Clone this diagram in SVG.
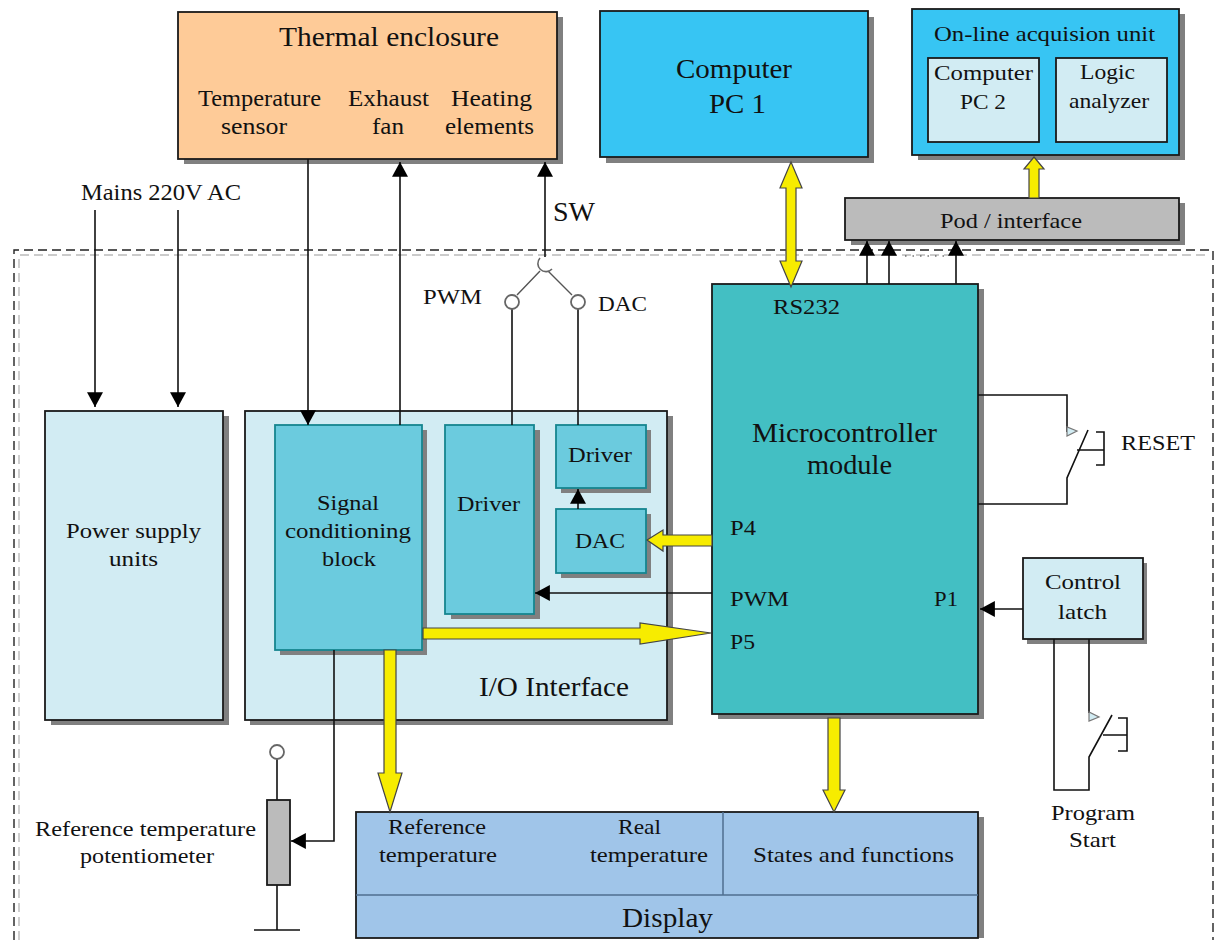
<svg xmlns="http://www.w3.org/2000/svg" width="1215" height="940" viewBox="0 0 1215 940">
<style>
text{font-family:"Liberation Serif","Times New Roman",serif;fill:#111;font-size:22px}
.s25{font-size:28px}.s24{font-size:27px}.s21{font-size:23px}
.sh{fill:#808080}
.box{stroke:#1a1a1a;stroke-width:1.8}
.inner{stroke:#16858f;stroke-width:1.8;fill:#6bcbde}
.lt{fill:#d2ecf3}.or{fill:#fecb98}.bl{fill:#37c5f3}.gr{fill:#bbb}.mc{fill:#43bfc3}.dp{fill:#a0c5e9}
.w{fill:none;stroke:#111;stroke-width:1.6}
.arr{fill:none;stroke:#111;stroke-width:1.6;marker-end:url(#ah)}
.bus{fill:#f7ec00;stroke:#444;stroke-width:1.2;stroke-linejoin:miter}
.term{fill:#fff;stroke:#666;stroke-width:1.8}
.div{fill:none;stroke:#4f6f90;stroke-width:1.5}
</style>
<defs>
<marker id="ah" markerUnits="userSpaceOnUse" markerWidth="16" markerHeight="16" viewBox="0 0 14 14" refX="13" refY="7" orient="auto"><path d="M0 0L13 7L0 14Z" fill="#000"/></marker>
</defs>

<g id="boundary">
<path d="M14 940V250H1213V940" fill="none" stroke="#222" stroke-width="1.4" stroke-dasharray="9 5"/>
<path d="M19 940V255H1207" fill="none" stroke="#bbb" stroke-width="1.4" stroke-dasharray="9 5"/>
</g>

<g id="thermal-enclosure">
<rect class="sh" x="184" y="17" width="379" height="147"/><rect class="box or" x="178" y="12" width="379" height="147"/>
<text class="s25" x="279" y="46" textLength="220" lengthAdjust="spacingAndGlyphs">Thermal enclosure</text>
<text class="s21" x="198" y="106" textLength="123" lengthAdjust="spacingAndGlyphs">Temperature</text>
<text class="s21" x="221" y="134" textLength="66" lengthAdjust="spacingAndGlyphs">sensor</text>
<text class="s21" x="348" y="106" textLength="81" lengthAdjust="spacingAndGlyphs">Exhaust</text>
<text class="s21" x="372" y="134" textLength="32" lengthAdjust="spacingAndGlyphs">fan</text>
<text class="s21" x="451" y="106" textLength="81" lengthAdjust="spacingAndGlyphs">Heating</text>
<text class="s21" x="445" y="134" textLength="89" lengthAdjust="spacingAndGlyphs">elements</text>
</g>

<g id="computer-pc1">
<rect class="sh" x="606" y="17" width="268" height="146"/><rect class="box bl" x="600" y="11" width="268" height="146"/>
<text class="s25" x="676" y="78" textLength="116" lengthAdjust="spacingAndGlyphs">Computer</text>
<text class="s25" x="709" y="113" textLength="57" lengthAdjust="spacingAndGlyphs">PC 1</text>
</g>

<g id="acquisition-unit">
<rect class="sh" x="918" y="14" width="267" height="146"/><rect class="box bl" x="912" y="9" width="267" height="146"/>
<text x="934" y="41" textLength="221" lengthAdjust="spacingAndGlyphs">On-line acquision unit</text>
<rect class="box lt" x="928" y="58" width="111" height="84"/>
<text x="934" y="80" textLength="99" lengthAdjust="spacingAndGlyphs">Computer</text>
<text x="960" y="109" textLength="46" lengthAdjust="spacingAndGlyphs">PC 2</text>
<rect class="box lt" x="1056" y="58" width="111" height="84"/>
<text x="1080" y="79" textLength="55" lengthAdjust="spacingAndGlyphs">Logic</text>
<text x="1069" y="108" textLength="80" lengthAdjust="spacingAndGlyphs">analyzer</text>
</g>

<g id="pod-interface">
<rect class="sh" x="851" y="203" width="334" height="42"/><rect class="box gr" x="845" y="198" width="334" height="42"/>
<text x="940" y="228" textLength="142" lengthAdjust="spacingAndGlyphs">Pod / interface</text>
</g>

<g id="power-supply">
<rect class="sh" x="51" y="416" width="178" height="309"/><rect class="box lt" x="45" y="411" width="178" height="309"/>
<text x="66" y="538" textLength="135" lengthAdjust="spacingAndGlyphs">Power supply</text>
<text x="109" y="566" textLength="49" lengthAdjust="spacingAndGlyphs">units</text>
</g>

<g id="io-interface">
<rect class="sh" x="250" y="416" width="423" height="309"/><rect class="box lt" x="245" y="411" width="422" height="309"/>
<text class="s24" x="479" y="696" textLength="150" lengthAdjust="spacingAndGlyphs">I/O Interface</text>
</g>

<g id="signal-conditioning">
<rect class="sh" x="280" y="430" width="147" height="225"/><rect class="inner" x="275" y="425" width="147" height="225"/>
<text x="317" y="510" textLength="62" lengthAdjust="spacingAndGlyphs">Signal</text>
<text x="285" y="538" textLength="126" lengthAdjust="spacingAndGlyphs">conditioning</text>
<text x="322" y="566" textLength="54" lengthAdjust="spacingAndGlyphs">block</text>
</g>

<g id="driver-pwm">
<rect class="sh" x="451" y="430" width="89" height="189"/><rect class="inner" x="445" y="425" width="89" height="189"/>
<text x="457" y="511" textLength="63" lengthAdjust="spacingAndGlyphs">Driver</text>
</g>

<g id="driver-dac">
<rect class="sh" x="561" y="430" width="90" height="63"/><rect class="inner" x="556" y="425" width="90" height="63"/>
<text x="568" y="462" textLength="64" lengthAdjust="spacingAndGlyphs">Driver</text>
</g>

<g id="dac">
<rect class="sh" x="561" y="514" width="90" height="64"/><rect class="inner" x="556" y="509" width="90" height="64"/>
<text x="575" y="548" textLength="50" lengthAdjust="spacingAndGlyphs">DAC</text>
</g>

<g id="microcontroller">
<rect class="sh" x="718" y="289" width="266" height="430"/><rect class="box mc" x="712" y="284" width="266" height="430"/>
<text x="773" y="314" textLength="67" lengthAdjust="spacingAndGlyphs">RS232</text>
<text class="s24" x="752" y="442" textLength="185" lengthAdjust="spacingAndGlyphs">Microcontroller</text>
<text class="s24" x="807" y="474" textLength="85" lengthAdjust="spacingAndGlyphs">module</text>
<text x="730" y="535" textLength="26" lengthAdjust="spacingAndGlyphs">P4</text>
<text x="730" y="606" textLength="59" lengthAdjust="spacingAndGlyphs">PWM</text>
<text x="730" y="649" textLength="25" lengthAdjust="spacingAndGlyphs">P5</text>
<text x="934" y="606" textLength="24" lengthAdjust="spacingAndGlyphs">P1</text>
</g>

<g id="control-latch">
<rect class="sh" x="1027" y="563" width="120" height="81"/><rect class="box lt" x="1023" y="558" width="120" height="81"/>
<text x="1045" y="589" textLength="76" lengthAdjust="spacingAndGlyphs">Control</text>
<text x="1058" y="619" textLength="49" lengthAdjust="spacingAndGlyphs">latch</text>
</g>

<g id="display">
<rect class="sh" x="362" y="817" width="622" height="121"/><rect class="box dp" x="356" y="812" width="622" height="126"/>
<path class="div" d="M356 895H978M723 812V895"/>
<text x="388" y="834" textLength="98" lengthAdjust="spacingAndGlyphs">Reference</text>
<text x="379" y="862" textLength="118" lengthAdjust="spacingAndGlyphs">temperature</text>
<text x="618" y="834" textLength="43" lengthAdjust="spacingAndGlyphs">Real</text>
<text x="590" y="862" textLength="118" lengthAdjust="spacingAndGlyphs">temperature</text>
<text x="753" y="862" textLength="201" lengthAdjust="spacingAndGlyphs">States and functions</text>
<text class="s24" x="622" y="927" textLength="91" lengthAdjust="spacingAndGlyphs">Display</text>
</g>

<g id="potentiometer">
<path class="w" d="M277 759V800M277 885V930M254 930H300"/>
<circle class="term" cx="277" cy="752" r="7"/>
<rect class="box gr" x="267" y="800" width="23" height="85"/>
<text x="35" y="836" textLength="221" lengthAdjust="spacingAndGlyphs">Reference temperature</text>
<text x="80" y="863" textLength="134" lengthAdjust="spacingAndGlyphs">potentiometer</text>
</g>

<g id="connectors">
<path class="arr" d="M95 210V407"/>
<path class="arr" d="M178 210V407"/>
<path class="arr" d="M308 159V425"/>
<path class="arr" d="M400 425V162"/>
<path class="arr" d="M545 257V162"/>
<path class="w" d="M512 309V425M578 309V425"/>
<path d="M540 271L517 295M548 271L572 295" fill="none" stroke="#555" stroke-width="1.4"/>
<path d="M540 258A7 7 0 1 0 552 269" fill="none" stroke="#666" stroke-width="1.6"/>
<circle class="term" cx="512" cy="302" r="7"/>
<circle class="term" cx="578" cy="302" r="7"/>
<path class="arr" d="M867 284V241"/>
<path class="arr" d="M889 284V241"/>
<path class="arr" d="M956 284V241"/>
<path d="M905 256H945" fill="none" stroke="#333" stroke-width="1.2" stroke-dasharray="1.5 6"/>
<path class="arr" d="M578 509V489"/>
<path class="arr" d="M712 593H535"/>
<path class="arr" d="M1023 609H980"/>
<path class="arr" d="M334 650V841H291"/>
<path class="w" d="M978 395H1067V432M978 504H1067V478L1088 430M1096 432H1104V465H1096M1077 450H1104"/>
<path d="M1067 427V436L1077 431Z" fill="#d2ecf3" stroke="#777" stroke-width="1.2"/>
<path class="w" d="M1089 639V713M1054 639V790H1089V757L1112 715M1118 718H1127V751H1118M1103 735H1127"/>
<path d="M1089 712V721L1099 717Z" fill="#d2ecf3" stroke="#777" stroke-width="1.2"/>
<path class="bus" d="M791 162L802 188H796V261H802L791 287L780 261H786V188H780Z"/>
<path class="bus" d="M1034 157L1044 169H1039V198H1029V169H1024Z"/>
<path class="bus" d="M647 540L663 530V535H712V546H663V551Z"/>
<path class="bus" d="M423 628H640V623L711 633L640 644V639H423Z"/>
<path class="bus" d="M384 650H396V773H402L390 812L378 773H384Z"/>
<path class="bus" d="M828 718H840V790H845L834 812L823 790H828Z"/>
</g>

<g id="external-labels">
<text class="s21" x="81" y="200" textLength="160" lengthAdjust="spacingAndGlyphs">Mains 220V AC</text>
<text class="s24" x="553" y="221" textLength="42" lengthAdjust="spacingAndGlyphs">SW</text>
<text x="423" y="304" textLength="59" lengthAdjust="spacingAndGlyphs">PWM</text>
<text x="598" y="311" textLength="49" lengthAdjust="spacingAndGlyphs">DAC</text>
<text x="1121" y="450" textLength="74" lengthAdjust="spacingAndGlyphs">RESET</text>
<text x="1051" y="820" textLength="84" lengthAdjust="spacingAndGlyphs">Program</text>
<text x="1069" y="847" textLength="47" lengthAdjust="spacingAndGlyphs">Start</text>
</g>
</svg>
